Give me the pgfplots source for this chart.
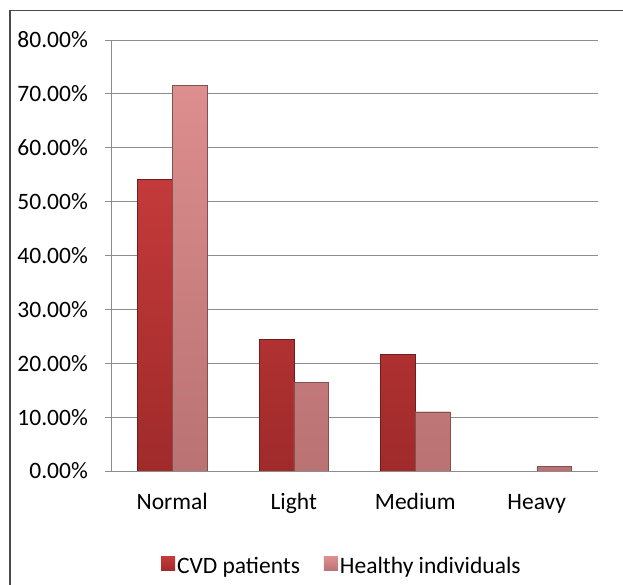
\documentclass[border=0pt]{standalone}
\usepackage{pgfplots}
\pgfplotsset{compat=1.18}
\usepackage{fontspec}
\setmainfont{Carlito}
\definecolor{cvdtop}{HTML}{C43A3A}
\definecolor{cvdbot}{HTML}{A02A2A}
\definecolor{hlttop}{HTML}{DD8E8E}
\definecolor{hltbot}{HTML}{BA7272}
\definecolor{gridc}{HTML}{8C8C8C}
\definecolor{framec}{HTML}{4A4A4A}
\begin{document}
\begin{tikzpicture}[font=\fontsize{23.5bp}{28bp}\selectfont]
\useasboundingbox (0,0) rectangle (623bp,585bp);
\draw[framec, line width=1.6bp] (10bp,0bp) -- (10bp,574.5bp) -- (623bp,574.5bp);
\begin{axis}[
  at={(111.5bp,114bp)}, anchor=south west,
  scale only axis, width=486bp, height=431bp,
  ybar=0pt, bar width=34.6bp,
  xmin=-0.5, xmax=3.5, ymin=0, ymax=80,
  axis x line*=bottom, axis y line*=left,
  axis line style={gridc, line width=0.9bp},
  major tick length=6.5bp, tick align=outside,
  xtick={0,1,2,3}, xticklabels={Normal,Light,Medium,Heavy},
  x tick style={draw=none},
  extra x ticks={-0.5,0.5,1.5,2.5,3.5}, extra x tick labels={},
  extra x tick style={tick style={draw=gridc, line width=0.9bp}},
  xticklabel style={anchor=base, yshift=-32bp},
  ytick={0,10,...,80},
  yticklabels={0.00\%,10.00\%,20.00\%,30.00\%,40.00\%,50.00\%,60.00\%,70.00\%,80.00\%},
  y tick style={draw=gridc, line width=0.9bp},
  yticklabel style={anchor=east, inner sep=0pt, xshift=-17bp},
  ymajorgrids, grid style={gridc, line width=0.9bp},
  legend columns=2,
  legend style={at={(0.474,-0.22)}, anchor=center, draw=none, fill=none,
    /tikz/every even column/.append style={column sep=22bp}},
  legend image code/.code={\path[#1, draw=none] (0bp,-5bp) rectangle (14bp,9bp);},
]
\addplot[top color=cvdtop, bottom color=cvdbot, draw=cvdbot!70!black] coordinates {(0,54.1) (1,24.4) (2,21.7)};
\addlegendentry{CVD patients}
\addplot[top color=hlttop, bottom color=hltbot, draw=hltbot!70!black] coordinates {(0,71.6) (1,16.5) (2,11.0) (3,0.8)};
\addlegendentry{Healthy individuals}
\end{axis}
\end{tikzpicture}
\end{document}
